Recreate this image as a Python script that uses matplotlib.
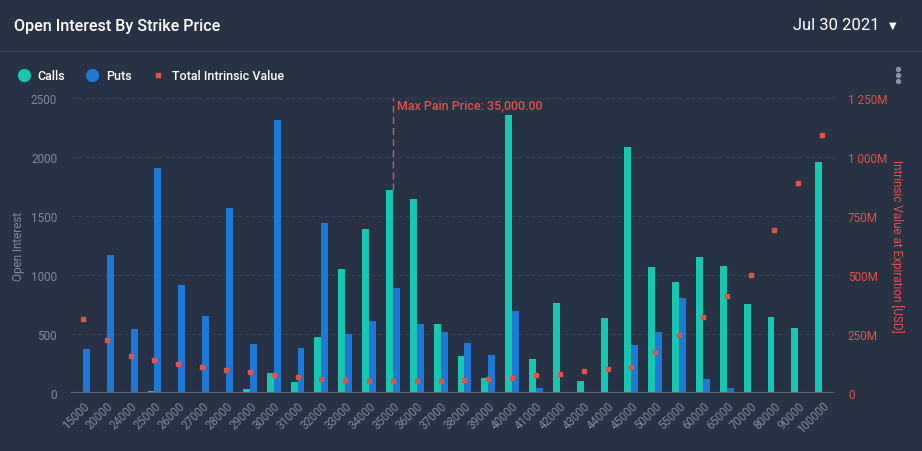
import numpy as np
import matplotlib.pyplot as plt
from matplotlib.ticker import FuncFormatter
from matplotlib.lines import Line2D

strikes = ['15000', '20000', '24000', '25000', '26000', '27000', '28000', '29000',
           '30000', '31000', '32000', '33000', '34000', '35000', '36000', '37000',
           '38000', '39000', '40000', '41000', '42000', '43000', '44000', '45000',
           '50000', '55000', '60000', '65000', '70000', '80000', '90000', '100000']
calls = [0, 10, 0, 20, 0, 0, 8, 37, 172, 96, 477, 1053, 1392, 1723, 1647, 587,
         316, 130, 2358, 290, 765, 104, 638, 2088, 1070, 943, 1155, 1079, 757, 647, 554, 1960]
puts = [375, 1172, 545, 1909, 918, 655, 1570, 418, 2316, 384, 1443, 502, 612, 893, 587, 519,
        426, 324, 700, 45, 0, 0, 0, 409, 519, 808, 121, 45, 0, 0, 0, 0]
intrinsic_m = [315, 225, 157, 141, 125, 113, 100, 89, 79, 70, 62, 56, 53, 51, 51, 53,
               58, 62, 66, 76, 83, 93, 103, 113, 175, 247, 325, 412, 503, 693, 892, 1094]
max_pain = '35000'

BG = '#273244'
CALL_C = '#17c8b0'
PUT_C = '#1c79d6'
RED = '#e2524b'
GRAY = '#7f8a9b'

plt.rcParams['font.family'] = ['Roboto', 'DejaVu Sans']

fig = plt.figure(figsize=(9.22, 4.52), dpi=100, facecolor=BG)
ax = fig.add_axes([0.077, 0.1276, 0.8276, 0.6527])
ax.set_facecolor(BG)
ax2 = ax.twinx()

x = np.arange(len(strikes))
w = 0.29
ax.bar(x - w / 2, calls, width=w, color=CALL_C, zorder=3)
ax.bar(x + w / 2, puts, width=w, color=PUT_C, zorder=3)
ax2.plot(x, np.array(intrinsic_m) * 1e6, 's', color=RED, markersize=3, zorder=4)

# max pain line
mp = strikes.index(max_pain)
ax.axvline(mp, ymin=calls[mp] / 2500, color=RED, linestyle=(0, (5, 3)),
           linewidth=1, zorder=2)
ax.text(mp + 0.17, 2440, 'Max Pain Price: 35,000.00', color=RED, fontsize=9,
        fontweight='medium', va='center', ha='left')

ax.set_xlim(-0.5, len(strikes) - 0.5)
ax.set_ylim(0, 2500)
ax2.set_ylim(0, 1250e6)
ax.set_yticks([0, 500, 1000, 1500, 2000, 2500])
ax2.set_yticks([0, 250e6, 500e6, 750e6, 1000e6, 1250e6])
ax2.yaxis.set_major_formatter(FuncFormatter(
    lambda v, p: '0' if v == 0 else '{:,.0f}M'.format(v / 1e6).replace(',', ' ')))

ax.grid(axis='y', color='#344052', linestyle=(0, (4, 2)), linewidth=0.8, zorder=0)
for a in (ax, ax2):
    for s in a.spines.values():
        s.set_visible(False)
ax.axhline(0, color='#5b6574', linewidth=1.5, zorder=5)

ax.set_xticks(x)
ax.set_xticklabels(strikes, rotation=45, ha='right', rotation_mode='anchor')
ax.tick_params(axis='x', length=0, pad=4, labelsize=8.3, labelcolor=GRAY)
ax.tick_params(axis='y', length=0, pad=10, labelsize=8.5, labelcolor=GRAY)
ax2.tick_params(axis='y', length=0, pad=10, labelsize=8.5, labelcolor=RED)

ax.set_ylabel('Open Interest', color=GRAY, fontsize=8.5, labelpad=4)
ax2.set_ylabel('Intrinsic Value at Expiration [USD]', color=RED, fontsize=8.5,
               rotation=270, labelpad=12)

# header
fig.text(14 / 922, 1 - 26 / 452, 'Open Interest By Strike Price', color='white',
         fontsize=11.6, fontweight='medium', va='center')
fig.text(879 / 922, 1 - 26 / 452, 'Jul 30 2021', color='white', fontsize=12,
         va='center', ha='right')
fig.text(893 / 922, 1 - 26 / 452, '\u25bc', color='white', fontsize=7,
         va='center', ha='center', family='DejaVu Sans')
fig.add_artist(Line2D([0, 1], [1 - 52 / 452, 1 - 52 / 452], color='#3a4657', linewidth=1))

# legend
ly = 1 - 76 / 452
fig.add_artist(Line2D([24 / 922], [ly], marker='o', color=CALL_C, markersize=8.5))
fig.text(37 / 922, ly, 'Calls', color='white', fontsize=9, fontweight='medium', va='center')
fig.add_artist(Line2D([92 / 922], [ly], marker='o', color=PUT_C, markersize=8.5))
fig.text(106 / 922, ly, 'Puts', color='white', fontsize=9, fontweight='medium', va='center')
fig.add_artist(Line2D([158 / 922], [ly], marker='s', color=RED, markersize=3))
fig.text(172 / 922, ly, 'Total Intrinsic Value', color='white', fontsize=9,
         fontweight='medium', va='center')

# menu dots
for dy in (70, 76, 82):
    fig.add_artist(Line2D([898 / 922], [1 - dy / 452], marker='o', color='#8a93a2',
                          markersize=2.8))

fig.savefig('out.png', dpi=100, facecolor=BG)
